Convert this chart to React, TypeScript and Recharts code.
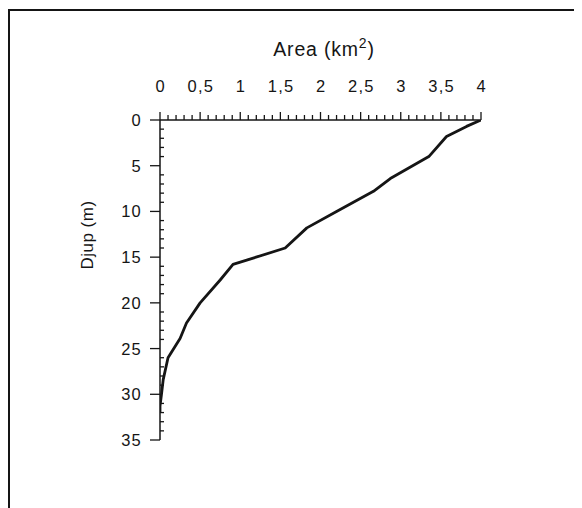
import React from "react";
import { LineChart, Line, XAxis, YAxis } from "recharts";

// hypsographic curve: area (km2) against depth (m)
const AREA = [4.0, 3.82, 3.57, 3.35, 2.87, 2.66, 2.2, 1.83, 1.56, 0.91, 0.75, 0.5, 0.33, 0.25, 0.1, 0.04, 0.02, 0.0, 0.0];
const DEPTH = [0, 0.7, 1.8, 4, 6.4, 7.8, 10, 11.8, 14, 15.8, 17.5, 20, 22.2, 23.9, 26, 28.4, 29.9, 31.3, 32];

const X_MAJOR = [0, 0.5, 1, 1.5, 2, 2.5, 3, 3.5, 4];
const Y_MAJOR = [0, 5, 10, 15, 20, 25, 30, 35];

const X_TICKS: number[] = [];
for (let i = 0; i <= 40; i++) X_TICKS.push(i / 10);
const Y_TICKS: number[] = [];
for (let i = 0; i <= 35; i++) Y_TICKS.push(i);

const data = AREA.map((a, i) => ({ area: a, depth: DEPTH[i] }));

const INK = "#151515";
const FONT = "'Liberation Sans', Arial, sans-serif";

const fmt = (v: number) => String(v).replace(".", ",");

function XTick(props: any) {
  const { x, y, payload } = props;
  const v = payload.value;
  const major = X_MAJOR.some((m) => Math.abs(m - v) < 1e-6);
  return (
    <g>
      <line x1={x} x2={x} y1={y} y2={y - (major ? 8 : 5)} stroke={INK} strokeWidth={1.3} />
      {major && (
        <text x={x + 0.7} y={y - 28} textAnchor="middle" fontSize={16.5} letterSpacing={1.2} fill={INK} fontFamily={FONT}>
          {fmt(v)}
        </text>
      )}
    </g>
  );
}

function YTick(props: any) {
  const { x, y, payload } = props;
  const v = payload.value;
  const major = Y_MAJOR.includes(v);
  return (
    <g>
      {major
        ? <line x1={x - 10} x2={x} y1={y} y2={y} stroke={INK} strokeWidth={1.3} />
        : <line x1={x} x2={x + 4} y1={y} y2={y} stroke={INK} strokeWidth={1.3} />}
      {major && (
        <text x={x - 18} y={y} dy="0.36em" textAnchor="end" fontSize={16.5} letterSpacing={1.2} fill={INK} fontFamily={FONT}>
          {v}
        </text>
      )}
    </g>
  );
}

export default function App() {
  return (
    <div
      style={{
        position: "relative", width: 572, height: 498, marginTop: 1,
        borderTop: `2px solid ${INK}`, borderLeft: `2px solid ${INK}`, background: "#fff",
      }}
    >
      <LineChart width={560} height={480} data={data} margin={{ top: 69, right: 89, bottom: 51, left: 90 }}>
        <XAxis
          dataKey="area" type="number" orientation="top" domain={[0, 4]} ticks={X_TICKS}
          interval={0} tickSize={0} tickMargin={0} height={40} tick={<XTick />}
          axisLine={{ stroke: INK, strokeWidth: 1.5 }} tickLine={false} allowDataOverflow
        />
        <YAxis
          dataKey="depth" type="number" reversed domain={[0, 35]} ticks={Y_TICKS}
          interval={0} tickSize={0} tickMargin={0} width={60} tick={<YTick />}
          axisLine={{ stroke: INK, strokeWidth: 1.5 }} tickLine={false} allowDataOverflow
        />
        <Line
          type="linear" dataKey="depth" stroke={INK} strokeWidth={2.8} dot={false}
          isAnimationActive={false} strokeLinejoin="round"
        />
      </LineChart>
      <div
        style={{
          position: "absolute", left: 314, top: 24, transform: "translateX(-50%)",
          fontFamily: FONT, fontSize: 19.5, letterSpacing: 0.8, color: INK, whiteSpace: "nowrap",
        }}
      >
        Area (km<sup style={{ fontSize: 14 }}>2</sup>)
      </div>
      <div
        style={{
          position: "absolute", left: 78, top: 224, transform: "translate(-50%, -50%) rotate(-90deg)",
          fontFamily: FONT, fontSize: 17, letterSpacing: 0.5, color: INK, whiteSpace: "nowrap",
        }}
      >
        Djup (m)
      </div>
    </div>
  );
}
